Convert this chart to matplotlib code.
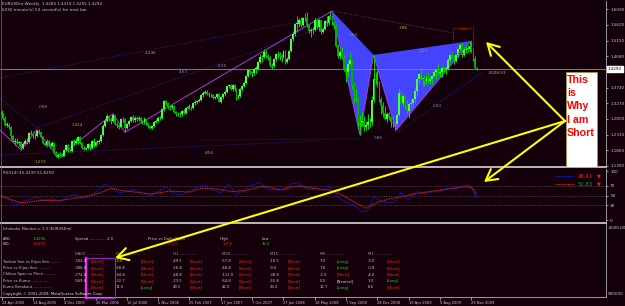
import numpy as np
import matplotlib
matplotlib.use("Agg")
import matplotlib.pyplot as plt
from matplotlib.patches import Rectangle
from matplotlib.transforms import blended_transform_factory

# ---- weekly EURUSDm bars, 24 Apr 2005 .. 20 Dec 2009 ----
first_open = 1.302
closes = [1.292, 1.283, 1.262, 1.262, 1.257, 1.228, 1.212, 1.213, 1.209, 1.210,
          1.192, 1.205, 1.215, 1.212, 1.237, 1.235, 1.228, 1.230, 1.244, 1.240,
          1.226, 1.209, 1.202, 1.214, 1.204, 1.200, 1.208, 1.178, 1.169, 1.173,
          1.172, 1.170, 1.187, 1.202, 1.186, 1.184, 1.213, 1.209, 1.215, 1.227,
          1.208, 1.192, 1.191, 1.192, 1.204, 1.192, 1.214, 1.199, 1.212, 1.212,
          1.214, 1.233, 1.260, 1.274, 1.290, 1.281, 1.273, 1.292, 1.265, 1.262,
          1.256, 1.279, 1.281, 1.252, 1.264, 1.274, 1.286, 1.276, 1.284, 1.279,
          1.282, 1.273, 1.270, 1.280, 1.267, 1.258, 1.253, 1.259, 1.272, 1.275,
          1.284, 1.282, 1.309, 1.334, 1.328, 1.315, 1.315, 1.320, 1.301, 1.294,
          1.296, 1.294, 1.303, 1.299, 1.313, 1.316, 1.316, 1.313, 1.327, 1.330,
          1.335, 1.338, 1.351, 1.359, 1.362, 1.355, 1.352, 1.351, 1.344, 1.346,
          1.354, 1.332, 1.345, 1.354, 1.362, 1.378, 1.381, 1.370, 1.382, 1.369,
          1.344, 1.349, 1.370, 1.379, 1.388, 1.408, 1.426, 1.421, 1.417, 1.430,
          1.431, 1.450, 1.465, 1.466, 1.482, 1.468, 1.466, 1.442, 1.438, 1.459,
          1.474, 1.475, 1.468, 1.467, 1.483, 1.450, 1.461, 1.483, 1.519, 1.536,
          1.566, 1.566, 1.578, 1.562, 1.582, 1.583, 1.561, 1.544, 1.548, 1.547,
          1.577, 1.555, 1.576, 1.542, 1.550, 1.574, 1.568, 1.590, 1.586, 1.570,
          1.560, 1.500, 1.468, 1.482, 1.467, 1.427, 1.420, 1.445, 1.457, 1.379,
          1.342, 1.343, 1.270, 1.271, 1.273, 1.257, 1.261, 1.270, 1.271, 1.336,
          1.400, 1.397, 1.392, 1.341, 1.322, 1.297, 1.280, 1.295, 1.287, 1.270,
          1.267, 1.265, 1.292, 1.359, 1.329, 1.348, 1.321, 1.305, 1.325, 1.328,
          1.339, 1.365, 1.400, 1.416, 1.400, 1.404, 1.393, 1.404, 1.395, 1.399,
          1.410, 1.420, 1.426, 1.419, 1.420, 1.433, 1.431, 1.431, 1.458, 1.472,
          1.468, 1.455, 1.472, 1.491, 1.503, 1.472, 1.486, 1.490, 1.491, 1.498,
          1.486, 1.461, 1.434, 1.429]
highs = [1.308, 1.298, 1.290, 1.270, 1.268, 1.260, 1.232, 1.222, 1.222, 1.215,
         1.213, 1.210, 1.221, 1.222, 1.242, 1.247, 1.240, 1.238, 1.248, 1.250,
         1.242, 1.229, 1.211, 1.219, 1.216, 1.209, 1.215, 1.211, 1.184, 1.178,
         1.180, 1.178, 1.190, 1.206, 1.205, 1.190, 1.217, 1.220, 1.222, 1.230,
         1.229, 1.211, 1.199, 1.197, 1.209, 1.206, 1.217, 1.222, 1.215, 1.218,
         1.220, 1.236, 1.264, 1.280, 1.296, 1.293, 1.285, 1.296, 1.293, 1.272,
         1.266, 1.283, 1.286, 1.283, 1.268, 1.278, 1.290, 1.292, 1.289, 1.288,
         1.288, 1.285, 1.276, 1.285, 1.281, 1.270, 1.262, 1.263, 1.275, 1.280,
         1.288, 1.290, 1.312, 1.336, 1.337, 1.331, 1.322, 1.325, 1.323, 1.305,
         1.301, 1.302, 1.306, 1.309, 1.317, 1.320, 1.324, 1.320, 1.330, 1.336,
         1.338, 1.344, 1.354, 1.363, 1.368, 1.366, 1.360, 1.357, 1.355, 1.350,
         1.358, 1.357, 1.348, 1.357, 1.366, 1.380, 1.385, 1.384, 1.386, 1.384,
         1.372, 1.355, 1.374, 1.383, 1.394, 1.412, 1.428, 1.430, 1.425, 1.434,
         1.438, 1.453, 1.475, 1.472, 1.490, 1.487, 1.475, 1.469, 1.447, 1.463,
         1.478, 1.483, 1.480, 1.475, 1.488, 1.486, 1.467, 1.488, 1.522, 1.544,
         1.569, 1.590, 1.582, 1.585, 1.586, 1.598, 1.601, 1.566, 1.554, 1.556,
         1.582, 1.581, 1.580, 1.578, 1.555, 1.578, 1.590, 1.593, 1.604, 1.592,
         1.574, 1.564, 1.505, 1.488, 1.497, 1.473, 1.436, 1.454, 1.482, 1.460,
         1.390, 1.371, 1.347, 1.292, 1.300, 1.290, 1.275, 1.296, 1.282, 1.350,
         1.472, 1.420, 1.427, 1.395, 1.345, 1.330, 1.320, 1.302, 1.301, 1.290,
         1.288, 1.273, 1.297, 1.373, 1.365, 1.356, 1.350, 1.336, 1.327, 1.339,
         1.342, 1.373, 1.403, 1.418, 1.433, 1.406, 1.411, 1.412, 1.421, 1.408,
         1.412, 1.427, 1.430, 1.444, 1.430, 1.438, 1.440, 1.436, 1.462, 1.474,
         1.482, 1.471, 1.475, 1.494, 1.508, 1.509, 1.496, 1.501, 1.502, 1.514,
         1.514, 1.490, 1.470, 1.436]
lows = [1.284, 1.277, 1.258, 1.255, 1.250, 1.221, 1.210, 1.203, 1.205, 1.200,
        1.187, 1.190, 1.201, 1.206, 1.208, 1.231, 1.222, 1.220, 1.226, 1.236,
        1.222, 1.205, 1.199, 1.195, 1.199, 1.194, 1.196, 1.176, 1.166, 1.164,
        1.166, 1.165, 1.168, 1.183, 1.180, 1.180, 1.181, 1.203, 1.204, 1.206,
        1.205, 1.189, 1.186, 1.187, 1.189, 1.188, 1.190, 1.196, 1.198, 1.205,
        1.205, 1.210, 1.230, 1.256, 1.270, 1.275, 1.265, 1.270, 1.262, 1.254,
        1.250, 1.252, 1.272, 1.240, 1.250, 1.260, 1.270, 1.272, 1.272, 1.275,
        1.275, 1.268, 1.265, 1.266, 1.263, 1.254, 1.250, 1.250, 1.256, 1.268,
        1.271, 1.276, 1.280, 1.305, 1.322, 1.310, 1.306, 1.310, 1.297, 1.288,
        1.288, 1.287, 1.290, 1.294, 1.295, 1.309, 1.310, 1.307, 1.310, 1.322,
        1.326, 1.330, 1.335, 1.347, 1.354, 1.351, 1.346, 1.345, 1.340, 1.340,
        1.342, 1.330, 1.329, 1.340, 1.350, 1.358, 1.373, 1.366, 1.364, 1.364,
        1.337, 1.340, 1.345, 1.364, 1.375, 1.385, 1.405, 1.415, 1.407, 1.412,
        1.419, 1.428, 1.447, 1.450, 1.462, 1.462, 1.456, 1.437, 1.430, 1.435,
        1.455, 1.464, 1.457, 1.450, 1.462, 1.446, 1.447, 1.458, 1.480, 1.513,
        1.530, 1.540, 1.555, 1.556, 1.558, 1.575, 1.556, 1.538, 1.526, 1.536,
        1.544, 1.551, 1.543, 1.536, 1.537, 1.547, 1.560, 1.562, 1.580, 1.563,
        1.550, 1.497, 1.462, 1.460, 1.462, 1.425, 1.390, 1.409, 1.440, 1.370,
        1.329, 1.332, 1.260, 1.233, 1.258, 1.245, 1.246, 1.251, 1.256, 1.263,
        1.332, 1.385, 1.376, 1.330, 1.294, 1.285, 1.276, 1.272, 1.278, 1.257,
        1.255, 1.246, 1.260, 1.288, 1.326, 1.318, 1.311, 1.297, 1.283, 1.310,
        1.314, 1.329, 1.349, 1.385, 1.397, 1.380, 1.378, 1.384, 1.388, 1.385,
        1.385, 1.405, 1.400, 1.412, 1.405, 1.405, 1.420, 1.415, 1.428, 1.452,
        1.462, 1.446, 1.450, 1.466, 1.486, 1.467, 1.470, 1.478, 1.482, 1.482,
        1.482, 1.455, 1.432, 1.426]
last_price = 1.4292

price_ticks = [1.6090, 1.5620, 1.5150, 1.4680, 1.3740, 1.3270, 1.2800, 1.2330, 1.1860, 1.1390]
date_idx = [0, 16, 32, 48, 64, 80, 96, 112, 128, 144, 160, 176, 192, 208, 224, 240]
date_labels = ["24 Apr 2005", "14 Aug 2005", "4 Dec 2005", "26 Mar 2006", "16 Jul 2006",
               "5 Nov 2006", "25 Feb 2007", "17 Jun 2007", "7 Oct 2007", "27 Jan 2008",
               "18 May 2008", "7 Sep 2008", "28 Dec 2008", "19 Apr 2009", "9 Aug 2009",
               "29 Nov 2009"]

# zigzag and harmonic pattern (X, A, B, C, D)
zz_idx = [-0.8, 10, 18, 29, 57, 63, 168.8, 183, 190, 201.5, 239.8]
zz_price = [1.247, 1.187, 1.248, 1.164, 1.296, 1.240, 1.604, 1.233, 1.472, 1.246, 1.514]
pat_idx = [168.8, 183, 190, 201.5, 239.8]
pat_price = [1.604, 1.233, 1.472, 1.246, 1.514]
prz_idx = [230.4, 240.7]
prz_price = [1.477, 1.552]

# dotted guide lines (start, end)
guide_idx = [(-0.8, 162.7), (-0.8, 18.1), (18.1, 162.7), (-0.8, 162.7), (101.4, 183.1), (202, 245.4)]
guide_price = [(1.403, 1.583), (1.343, 1.253), (1.253, 1.553), (1.172, 1.214), (1.217, 1.220), (1.238, 1.421)]
xd_idx = [168.8, 230.6]
xd_price = [1.604, 1.538]

fib_text = ["2.236", "4.63", "6.05", "0.88", "1.414", "1.272", ".854", "0.64", ".786", "1.29", "0.24", "0.86", "-2028.63"]
fib_idx = [76, 92.7, 113, 21.2, 38.6, 19.7, 106, 179.5, 205, 215.3, 222.4, 192.3, 253]
fib_price = [1.477, 1.421, 1.439, 1.316, 1.262, 1.151, 1.178, 1.532, 1.553, 1.484, 1.319, 1.223, 1.418]
fib_olive = [True, False, False, False, True, True, True, False, True, False, False, False, True]

# RSI(14) and its signal line
rsi_idx = [0, 4, 7, 10, 14, 18, 22, 26, 30, 34, 38, 42, 46, 50, 53, 56, 60, 64, 68, 72,
           76, 80, 84, 88, 92, 96, 100, 104, 108, 112, 116, 120, 124, 128, 132, 136, 140, 144, 148, 152,
           156, 160, 164, 168, 172, 176, 180, 184, 186, 188, 190, 192, 196, 200, 202, 204, 206, 208, 212, 216,
           220, 224, 228, 232, 236, 238, 240, 241, 242, 243]
rsi_vals = [50, 44, 31, 36, 42, 47, 40, 44, 36, 48, 52, 44, 50, 63, 73, 66, 56, 58, 62, 55,
            50, 58, 68, 54, 51, 60, 68, 70, 62, 56, 74, 52, 62, 72, 76, 62, 62, 60, 74, 76,
            62, 68, 60, 68, 46, 36, 30, 16, 18, 22, 48, 42, 36, 36, 42, 56, 46, 42, 58, 54,
            57, 59, 65, 64, 70, 72, 68, 58, 48, 45.4]
sig_idx = [0, 10, 20, 30, 40, 50, 56, 62, 70, 76, 86, 96, 102, 110, 118, 124, 134, 142, 152, 158,
           168, 174, 180, 186, 192, 198, 204, 210, 220, 228, 234, 238, 240, 243]
sig_vals = [48, 35, 40, 40, 46, 55, 65, 60, 56, 53, 59, 57, 65, 63, 58, 60, 69, 62, 70, 65,
            61, 51, 37, 24, 36, 43, 47, 53, 59, 63, 67, 68, 66, 51.8]
rsi_levels = [70, 50, 30]
rsi_ticks = [100, 70, 50, 30, 0]

# Ichimoku monitor table
row_labels = ["Tenkan Sen vs Kijun Sen ........", "Price vs Kijun Sen ..........",
              "Chikou Span vs Price .........", "Price vs Kumo ..............",
              "Kumo Breakout .............."]
timeframes = ["DAILY", "H4", "H1", "M30", "M15", "M5", "M1"]
ichi_values = [["-202.8", "-386.8", "-774.8", "-569.8", ""],
               ["-9.0", "-68.8", "-94.8", "-32.7", "11.5"],
               ["-49.5", "-56.8", "-48.8", "-23.5", "49.5"],
               ["-57.8", "-48.8", "-112.0", "-64.8", "42.0"],
               ["-10.5", "-9.0", "-38.8", "-55.8", "29.2"],
               ["7.0", "7.8", "-2.0", "0.0", "12.7"],
               ["-3.0", "-0.8", "-4.0", "1.0", "6.6"]]
ichi_signals = [["Short"] * 5,
                ["Short", "Short", "Short", "Short", "Long"],
                ["Short"] * 5,
                ["Short"] * 5,
                ["Short"] * 5,
                ["Long", "Long", "Short", "Neutral", "Long"],
                ["Short", "Short", "Short", "Long", "Short"]]

BG = '#14000a'
GREY = '#c8c8c8'
W, H = 625, 306


def rect(x0, y0, x1, y1):
    # pixel box -> figure fraction
    return [x0 / W, 1 - y1 / H, (x1 - x0) / W, (y1 - y0) / H]


fig = plt.figure(figsize=(6.25, 3.06), dpi=100, facecolor=BG)
XLIM = (-0.77, 308.7)

# --- main price panel ---
ax = fig.add_axes(rect(0, 1, 606, 166), facecolor=BG)
idx = np.arange(len(closes))
c = np.array(closes)
o = np.array([first_open] + closes[:-1])

for tri in [(0, 1, 2), (2, 3, 4)]:
    ax.fill([pat_idx[k] for k in tri], [pat_price[k] for k in tri], color='#4444ff', lw=0, zorder=1)
for gi, gp in zip(guide_idx, guide_price):
    ax.plot(gi, gp, color='#24248c', ls=(0, (1, 1.5)), lw=0.7, zorder=2)
ax.plot(xd_idx, xd_price, color='#6a2a90', ls=(0, (1, 1.5)), lw=0.7, zorder=2)
ax.plot(zz_idx, zz_price, color='#a040d8', lw=0.7, zorder=3)

ax.vlines(idx, lows, highs, color='#00d400', lw=0.75, zorder=4)
ax.bar(idx, np.maximum(np.abs(c - o), 0.0015), bottom=np.minimum(o, c), width=0.95,
       color=np.where(c >= o, '#48ff48', '#00b000'), lw=0, zorder=5)

ax.add_patch(Rectangle((prz_idx[0], prz_price[0]), prz_idx[1] - prz_idx[0], prz_price[1] - prz_price[0],
                       fill=False, ec='#d01010', ls=(0, (1, 1)), lw=0.8, zorder=6))
ax.axhline(last_price, color='#8c8c8c', lw=0.6, zorder=3)

for t, xi, yp, ol in zip(fib_text, fib_idx, fib_price, fib_olive):
    ax.text(xi, yp, t, fontsize=3, color='#b4b440' if ol else '#8c8ca4',
            ha='center', va='center', zorder=7)

ax.set_xlim(*XLIM)
ax.set_ylim(1.1389, 1.6339)
ax.set_xticks([])
ax.yaxis.tick_right()
ax.set_yticks(price_ticks, [f'{p:.4f}' for p in price_ticks])
ax.tick_params(axis='y', colors=GREY, labelsize=3, length=1.5, width=0.5, pad=1.5)
for s in ['top', 'left', 'bottom']:
    ax.spines[s].set_visible(False)
ax.spines['right'].set_color('#b0b0b0')
ax.spines['right'].set_linewidth(0.6)
tr = blended_transform_factory(ax.transAxes, ax.transData)
ax.text(1 + 2 / 606, last_price, f'{last_price:.4f}', transform=tr, fontsize=3, color='black',
        va='center', ha='left', bbox=dict(boxstyle='square,pad=0.2', fc='white', ec='white'))

# --- RSI panel ---
rx = fig.add_axes(rect(0, 169, 606, 221), facecolor=BG)
for lv in rsi_levels:
    rx.axhline(lv, color='#6c6c6c', ls=(0, (1, 1.5)), lw=0.5)
rx.plot(rsi_idx, rsi_vals, color='#1c1cd8', ls=(0, (1, 0.6)), lw=0.8)
rx.plot(sig_idx, sig_vals, color='#d82020', ls=(0, (1, 0.6)), lw=0.8)
rx.set_xlim(*XLIM)
rx.set_ylim(-2.04, 104.1)
rx.set_xticks([])
rx.yaxis.tick_right()
rx.set_yticks(rsi_ticks, [str(v) for v in rsi_ticks])
rx.tick_params(axis='y', colors=GREY, labelsize=3, length=1.5, width=0.5, pad=1.5)
for s in ['top', 'left', 'bottom']:
    rx.spines[s].set_visible(False)
rx.spines['right'].set_color('#b0b0b0')
rx.spines['right'].set_linewidth(0.6)

# --- Ichimoku panel + date axis ---
dx = fig.add_axes(rect(0, 224, 606, 297), facecolor=BG)
dx.set_xlim(*XLIM)
dx.set_yticks([])
dx.set_xticks(date_idx, date_labels)
dx.tick_params(axis='x', colors=GREY, labelsize=2.6, length=2, width=0.5, pad=1)
for lbl in dx.get_xticklabels():
    lbl.set_ha('left')
for s in ['top', 'left']:
    dx.spines[s].set_visible(False)
for s in ['bottom', 'right']:
    dx.spines[s].set_color('#b0b0b0')
    dx.spines[s].set_linewidth(0.6)

# --- overlay in pixel coordinates for texts and annotations ---
ov = fig.add_axes([0, 0, 1, 1])
ov.set_xlim(0, W)
ov.set_ylim(H, 0)
ov.axis('off')
ov.patch.set_alpha(0)

ov.plot([0, 606], [167, 167], color='#b8b8b8', lw=1.4)
ov.plot([0, 606], [223, 223], color='#b8b8b8', lw=1.4)
ov.plot([0.5, 0.5], [0, 297], color='#707070', lw=0.5)

ov.text(2, 4, "EURUSDm,Weekly  1.4285 1.4319 1.4255 1.4292", fontsize=3, color=GREY, va='center')
ov.text(2, 10, "6030 minute(s) 53 second(s) for next bar", fontsize=3, color=GREY, va='center')
ov.text(3, 173, "RSI(14) 45.4139 51.8250", fontsize=3, color=GREY, va='center')
ov.text(608, 228, "-4000.00", fontsize=3, color=GREY, va='center')
ov.text(608, 294, "900000", fontsize=3, color=GREY, va='center')

# RSI legend
ov.plot([555, 574], [176, 176], color='#1c1cd8', ls=(0, (1, 0.6)), lw=0.8)
ov.text(578, 176, "45.41", fontsize=3.8, color='#ff2020', va='center')
ov.text(597, 176, "\u25bc", fontsize=3.5, color='#ff2020', va='center')
ov.plot([555, 574], [184, 184], color='#d82020', ls=(0, (1, 0.6)), lw=0.8)
ov.text(578, 184, "51.83", fontsize=3.8, color='#10b010', va='center')
ov.text(597, 184, "\u25bc", fontsize=3.5, color='#ff2020', va='center')

# Ichimoku monitor text
fs = 2.7
ov.text(3, 229, "Ichimoku Monitor v. 1.3 (EURUSDm)", fontsize=fs, color=GREY, va='center')
ov.text(3, 239, "ASK:", fontsize=fs, color=GREY, va='center')
ov.text(3, 244, "BID:", fontsize=fs, color=GREY, va='center')
ov.text(33, 239, "1.4294", fontsize=fs, color='#20d020', va='center')
ov.text(33, 244, "1.4292", fontsize=fs, color='#ff2020', va='center')
ov.text(75, 239, "Spread ............. 2.0", fontsize=fs, color=GREY, va='center')
ov.text(148, 239, "Price vs Daily Open", fontsize=fs, color=GREY, va='center')
ov.text(168, 244, "-21.0", fontsize=fs, color='#ff2020', va='center')
ov.text(220, 239, "High", fontsize=fs, color=GREY, va='center')
ov.text(223, 244, "-27.0", fontsize=fs, color='#ff2020', va='center')
ov.text(262, 239, "Low", fontsize=fs, color=GREY, va='center')
ov.text(262, 244, "36.0", fontsize=fs, color='#20d020', va='center')

col_x = [75, 116, 173, 222, 270, 320, 368]
sig_x = [91, 141, 190, 239, 288, 337, 387]
row_y = [261.5, 268, 274.5, 281, 287.5]
sig_col = {"Short": '#ff2020', "Long": '#20d020', "Neutral": '#d0d0d0'}
for y, lab in zip(row_y, row_labels):
    ov.text(3, y, lab, fontsize=fs, color=GREY, va='center')
ov.text(3, 293.5, "Copyright \u00a9 2001-2009, MetaQuotes Software Corp.", fontsize=fs,
        color='#e0e0e0', va='center')
for j, tf in enumerate(timeframes):
    ov.text(col_x[j], 254, tf + " " + "." * 14, fontsize=fs, color='#a0a0a0', va='center')
    for k, y in enumerate(row_y):
        ov.text(col_x[j], y, ichi_values[j][k], fontsize=fs, color=GREY, va='center')
        s = ichi_signals[j][k]
        ov.text(sig_x[j], y, f"[{s}]", fontsize=fs, color=sig_col[s], va='center')

ov.add_patch(Rectangle((86, 258), 29, 40, fill=False, ec='#9a20d0', lw=0.7))
ov.plot([86, 86], [258, 298], color='#ff20ff', lw=1.6)

# the note and arrows
ov.add_patch(Rectangle((566, 72), 31, 95, fc='white', ec='#a0a040', lw=0.5, zorder=5))
for t, y in zip(["This", "is", "Why", "I am", "Short"], [80, 93, 106, 120, 133]):
    ov.text(567, y, t, fontsize=7.7, fontweight='bold', color='#ff0000', va='center',
            family='Liberation Sans', zorder=6)
arrow = dict(arrowstyle='->,head_length=0.8,head_width=0.45', color='#ffff00', lw=1.5,
             shrinkA=0, shrinkB=0)
for tip in [(486, 42), (115, 258), (484, 182)]:
    ov.annotate('', xy=tip, xytext=(565, 121), arrowprops=arrow, zorder=7)

fig.savefig('out.png', dpi=100, facecolor=BG)
